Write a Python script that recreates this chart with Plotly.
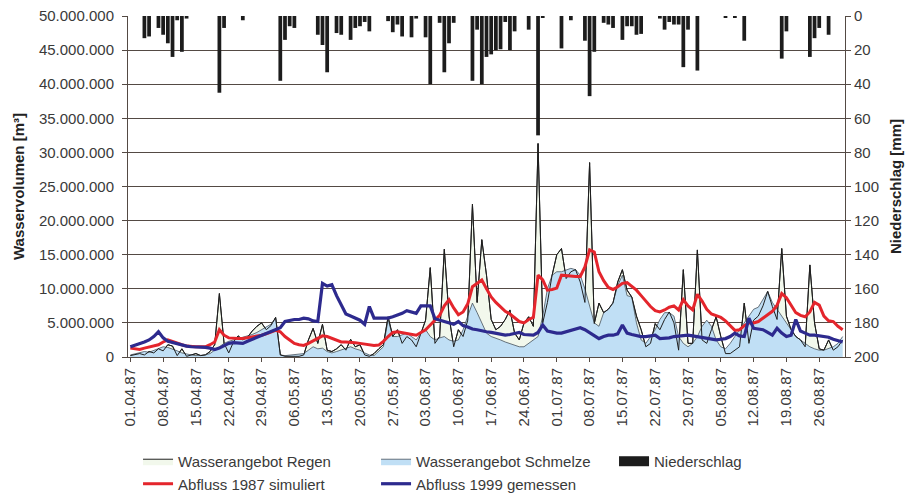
import pandas as pd
import plotly.graph_objects as go

# Daily series, 01.04.1987 - 31.08.1987 (153 days), one row per week
precip_mm = [
    0, 0, 0, 13, 12, 0, 7,
    11, 16, 24, 2.5, 21, 1.5, 0,
    0, 0, 0, 0, 0, 45, 7,
    0, 0, 0, 2.5, 0, 0, 0,
    0, 0, 0, 0, 38, 14, 6,
    7, 0, 0, 0, 0, 11, 17,
    33, 0, 10, 11, 0, 14, 7,
    6, 3.5, 9, 0, 0, 0, 3,
    9.5, 5, 12, 0, 12.5, 1.5, 0,
    12.5, 40, 0, 4, 33, 16, 4,
    0, 0, 0, 38, 8, 40, 24,
    22.5, 20, 19.5, 3.5, 20, 9, 0,
    0, 8, 0, 70, 1, 0, 0,
    0, 19, 0, 2.5, 0, 0, 14.5,
    47, 21, 0, 4, 5, 7, 0,
    14, 6, 6, 11, 10.5, 0, 0,
    0, 1.5, 8, 3.5, 5, 5, 30,
    8, 0, 32, 0, 0, 0, 0,
    0, 1, 0, 1, 0, 14.5, 0,
    0, 0, 0, 0, 0, 0, 25,
    9, 0, 0, 0, 0, 24, 13,
    7, 0, 11, 0, 0, 0,
]

# water volumes in million m³
regen_mio = [
    0.2, 0.3, 0.5, 0.3, 0.8, 0.6, 1.2,
    0.9, 1.8, 1.6, 0.2, 1.2, 0.1, 0.3,
    0.5, 0.2, 0.3, 0.8, 1.8, 9.3, 2.0,
    0.6, 2.2, 3.1, 2.5, 2.9, 3.8, 4.5,
    5.0, 4.0, 4.6, 5.8, 0.3, 0.1, 0.1,
    0.2, 0.1, 0.3, 2.5, 4.2, 2.0, 4.8,
    1.0, 0.8, 1.2, 1.8, 1.0, 2.6, 1.5,
    1.8, 0.3, 0.1, 0.5, 1.2, 1.8, 5.9,
    3.0, 4.0, 2.0, 3.0, 2.5, 1.5, 3.5,
    5.4, 13.1, 2.0, 3.0, 15.8, 6.0, 1.5,
    4.0, 3.0, 5.4, 22.4, 8.0, 17.2, 12.0,
    5.5, 4.0, 4.5, 5.5, 6.9, 3.5, 2.5,
    5.0, 5.9, 4.5, 31.3, 5.0, 8.0, 12.0,
    15.0, 15.9, 11.5, 12.5, 12.8, 11.0, 8.0,
    28.5, 4.9, 7.9, 6.5, 7.0, 7.9, 11.0,
    12.8, 9.8, 8.8, 6.0, 4.0, 1.5, 2.0,
    4.9, 4.0, 5.5, 6.6, 5.0, 1.0, 12.8,
    2.0, 2.0, 15.7, 2.5, 2.0, 4.0, 5.9,
    3.0, 0.5, 0.5, 1.0, 1.5, 7.9, 2.0,
    5.4, 6.0, 7.5, 9.6, 7.4, 5.5, 15.9,
    6.0, 4.0, 3.0, 2.5, 1.5, 13.5, 5.0,
    1.2, 1.0, 2.5, 1.0, 1.5, 2.5,
]

schmelze_mio = [
    0.3, 0.5, 0.7, 0.8, 0.7, 1.0, 1.3,
    1.5, 1.4, 1.2, 0.9, 0.6, 0.4, 0.3,
    0.2, 0.2, 0.3, 0.5, 1.0, 1.6, 2.0,
    2.3, 2.5, 2.7, 2.8, 3.0, 3.3, 3.6,
    4.0, 4.3, 4.8, 5.7, 0.3, 0.2, 0.3,
    0.3, 0.4, 0.5, 1.0, 1.5, 1.2, 1.3,
    0.8, 0.6, 0.8, 1.0, 1.2, 1.5, 1.2,
    1.0, 0.6, 0.3, 0.2, 0.8, 1.5, 5.5,
    3.0, 3.0, 3.2, 3.5, 3.0, 2.5, 3.5,
    4.0, 3.0, 2.5, 2.8, 3.0, 2.5, 2.3,
    2.5, 4.0, 6.0, 7.9, 6.5, 5.0, 3.5,
    3.0, 2.8, 2.5, 2.2, 2.0, 1.8, 1.5,
    1.5, 2.0, 2.5, 3.0, 6.0, 10.0, 12.0,
    12.5, 12.5, 12.8, 13.0, 12.8, 12.0, 10.0,
    7.5, 5.0, 4.5, 6.5, 7.0, 8.0, 10.5,
    12.0, 9.0, 8.8, 5.0, 2.5, 2.0, 3.0,
    4.0, 5.5, 6.5, 6.5, 6.0, 3.0, 2.0,
    1.5, 2.0, 3.0, 4.5, 5.4, 4.5, 2.5,
    1.5, 1.2, 2.0, 3.0, 4.0, 5.0, 6.0,
    7.0, 7.3, 8.5, 9.6, 8.0, 7.0, 6.0,
    5.0, 4.0, 3.0, 2.5, 2.0, 1.5, 1.2,
    1.0, 1.0, 1.2, 1.5, 2.0, 3.0,
]

abfluss_1987_mio = [
    1.3, 1.2, 1.1, 1.3, 1.5, 1.6, 1.8,
    2.2, 2.5, 2.3, 2.0, 1.8, 1.6, 1.5,
    1.5, 1.5, 1.5, 1.8, 2.2, 4.0, 3.2,
    2.8, 2.7, 2.7, 2.7, 2.8, 2.9, 3.1,
    3.2, 3.4, 3.7, 3.9, 3.7, 3.0, 2.5,
    2.0, 1.8, 1.7, 2.0, 2.4, 2.8, 3.1,
    3.0, 2.7, 2.5, 2.2, 2.2, 2.2, 2.1,
    2.0, 1.9, 1.75, 1.7, 1.75, 2.3, 3.0,
    3.6, 3.7, 3.6, 3.4, 3.3, 3.2, 3.6,
    4.0, 4.7, 5.4, 6.1, 7.5, 8.4, 7.2,
    6.2, 6.6, 7.8, 10.3, 10.8, 11.3, 10.0,
    8.8, 8.0, 7.3, 6.7, 6.3, 5.8, 5.2,
    5.0, 5.5, 5.8, 12.0, 11.3, 9.8, 9.9,
    10.1, 12.0, 11.9, 11.8, 11.8, 11.8, 13.2,
    15.7, 15.4, 12.5, 11.2, 10.2, 9.9, 10.3,
    10.8, 10.9, 10.4, 9.8, 9.0, 8.2, 7.4,
    6.8, 6.6, 6.9, 7.3, 7.5, 6.9, 8.4,
    7.5, 6.9, 9.2, 8.2, 7.0, 6.3, 6.1,
    5.8, 5.3, 4.6, 3.9, 4.0, 4.6, 5.0,
    5.0, 5.2, 5.7, 6.2, 6.7, 7.6, 9.3,
    8.7, 7.6, 6.5, 6.1, 5.9, 6.6, 8.0,
    7.6, 6.0, 5.3, 5.2, 4.5, 4.0,
]

abfluss_1999_mio = [
    1.5, 1.7, 2.0, 2.2, 2.5, 3.0, 3.7,
    2.8, 2.3, 2.1, 1.9, 1.8, 1.6, 1.5,
    1.5, 1.4, 1.4, 1.3, 1.1, 1.3, 1.7,
    2.0, 2.1, 2.0, 2.0, 2.3, 2.6, 2.9,
    3.2, 3.5, 3.8, 4.0, 4.3, 5.2, 5.4,
    5.5, 5.5, 5.7, 5.6, 5.3, 5.2, 10.8,
    10.4, 10.6, 9.0, 7.6, 6.3, 6.0, 5.7,
    5.4, 4.8, 7.4, 5.7, 5.7, 5.7, 5.7,
    5.9, 6.1, 6.4, 6.8, 6.6, 6.4, 7.5,
    7.5, 7.5, 5.6, 5.4, 5.2, 5.0, 4.8,
    5.2, 4.6, 4.4, 4.1, 4.0, 3.8, 3.7,
    3.6, 3.5, 3.4, 3.2, 3.3, 3.5, 3.6,
    3.3, 3.2, 3.2, 3.6, 4.7, 3.8, 3.6,
    3.5, 3.5, 3.7, 4.0, 4.1, 4.3, 4.0,
    3.6, 3.2, 2.7, 3.0, 3.2, 3.2, 3.4,
    4.7, 3.5, 3.3, 3.1, 3.0, 3.0, 3.1,
    3.2, 2.7, 2.7, 2.8, 3.0, 3.1, 3.2,
    3.2, 3.1, 3.0, 2.9, 2.8, 2.6, 2.5,
    2.6, 2.7, 3.0, 3.5, 3.1, 3.0, 5.7,
    4.2, 4.1, 4.0, 3.6, 3.2, 4.2, 3.5,
    3.0, 3.2, 5.5, 3.8, 3.5, 3.2, 3.2,
    3.1, 3.1, 2.9, 2.6, 2.4, 2.2,
]

dates = pd.date_range("1987-04-01", periods=len(precip_mm), freq="D")
to_m3 = lambda vals: [v * 1e6 for v in vals]

DAY_MS = 86400000
GRID = "#544a44"
TEXT = "#3a3a3a"
BAR = "#1c1c1c"
FONT = "Liberation Sans, Arial, Helvetica, sans-serif"

fig = go.Figure()

# rain-fed supply as a pale area (background layer)
fig.add_trace(go.Scatter(
    x=dates, y=to_m3(regen_mio), name="Wasserangebot Regen",
    mode="lines", fill="tozeroy", fillcolor="#f2f8ec",
    line=dict(color="#1f1f1f", width=1), legendrank=1,
))
# melt-water supply on top of it
fig.add_trace(go.Scatter(
    x=dates, y=to_m3(schmelze_mio), name="Wasserangebot Schmelze",
    mode="lines", fill="tozeroy", fillcolor="#c0dff5",
    line=dict(color="#46525c", width=0.8), legendrank=2,
))
# rain outline repeated so it stays visible over the melt area
fig.add_trace(go.Scatter(
    x=dates, y=to_m3(regen_mio), mode="lines", showlegend=False,
    line=dict(color="#1f1f1f", width=1), hoverinfo="skip",
))
fig.add_trace(go.Scatter(
    x=dates, y=to_m3(abfluss_1987_mio), name="Abfluss 1987 simuliert",
    mode="lines", line=dict(color="#e4252c", width=3), legendrank=4,
))
fig.add_trace(go.Scatter(
    x=dates, y=to_m3(abfluss_1999_mio), name="Abfluss 1999 gemessen",
    mode="lines", line=dict(color="#2d2a8e", width=3.2), legendrank=5,
))
# daily precipitation hanging from the top (reversed right axis)
fig.add_trace(go.Bar(
    x=dates, y=precip_mm, name="Niederschlag", yaxis="y2",
    marker=dict(color=BAR, line=dict(width=0)),
    width=0.8 * DAY_MS, showlegend=False,
))
# wide block swatch for the precipitation legend entry
fig.add_trace(go.Scatter(
    x=[None], y=[None], name="Niederschlag", mode="lines",
    line=dict(color=BAR, width=11), legendrank=3,
))

fig.update_layout(
    width=914, height=495,
    margin=dict(l=128, r=69, t=16, b=138, autoexpand=False),
    paper_bgcolor="white", plot_bgcolor="white",
    separators=",.",
    font=dict(family=FONT, size=15, color=TEXT),
    showlegend=True,
    barmode="overlay",
    legend=dict(
        orientation="h", x=0.014, xanchor="left", y=-0.258, yanchor="top",
        entrywidth=193, entrywidthmode="pixels", itemwidth=30,
        font=dict(family=FONT, size=15, color=TEXT),
        bgcolor="rgba(0,0,0,0)", tracegroupgap=0,
    ),
    xaxis=dict(
        type="date",
        range=["1987-03-31 12:00", "1987-08-31 12:00"],
        tickmode="linear", tick0="1987-04-01", dtick=7 * DAY_MS,
        tickformat="%d.%m.%y", tickangle=-90,
        ticks="outside", ticklen=4, tickcolor=GRID,
        showline=True, linecolor=GRID, linewidth=1,
        showgrid=False, zeroline=False, automargin=False,
        tickfont=dict(family=FONT, size=15, color=TEXT),
    ),
    yaxis=dict(
        range=[0, 50e6], tickmode="linear", tick0=0, dtick=5e6,
        tickformat=",d",
        showgrid=True, gridcolor=GRID, gridwidth=1,
        showline=True, linecolor=GRID, linewidth=1,
        ticks="outside", ticklen=5, tickcolor=GRID,
        ticklabelstandoff=5,
        zeroline=False, automargin=False,
        tickfont=dict(family=FONT, size=15, color=TEXT),
        title=dict(text="<b>Wasservolumen [m³]</b>", standoff=10,
                   font=dict(family=FONT, size=15, color="#222")),
    ),
    yaxis2=dict(
        overlaying="y", side="right",
        range=[200, 0], tickmode="linear", tick0=0, dtick=20,
        showgrid=False, zeroline=False, automargin=False,
        showline=True, linecolor=GRID, linewidth=1,
        ticks="outside", ticklen=5, tickcolor=GRID,
        tickfont=dict(family=FONT, size=15, color=TEXT),
        title=dict(text="<b>Niederschlag [mm]</b>", standoff=12,
                   font=dict(family=FONT, size=15, color="#222")),
    ),
)

fig.write_html("out.html")
